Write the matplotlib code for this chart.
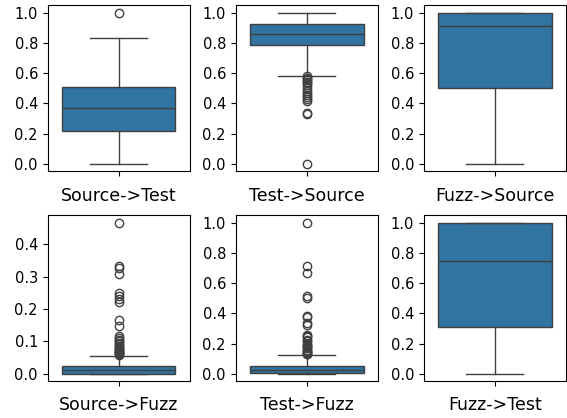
import matplotlib

matplotlib.use("Agg")
import matplotlib.pyplot as plt
from matplotlib.ticker import MultipleLocator

# panel order: top row then bottom row
labels = [
    "Source->Test",
    "Test->Source",
    "Fuzz->Source",
    "Source->Fuzz",
    "Test->Fuzz",
    "Fuzz->Test",
]
medians = [0.37, 0.862, 0.911, 0.011, 0.025, 0.75]
q1s = [0.217, 0.789, 0.5, 0.0, 0.003, 0.31]
q3s = [0.51, 0.924, 1.0, 0.025, 0.05, 1.0]
whis_lo = [0.0, 0.583, 0.0, 0.0, 0.0, 0.0]
whis_hi = [0.833, 1.0, 1.0, 0.056, 0.125, 1.0]
fliers = [
    [1.0],
    [0.579, 0.571, 0.563, 0.556, 0.545, 0.533, 0.524, 0.5, 0.485,
     0.467, 0.455, 0.444, 0.429, 0.417, 0.339, 0.333, 0.0],
    [],
    [0.466, 0.333, 0.327, 0.308, 0.25, 0.24, 0.231, 0.222, 0.167,
     0.148, 0.115, 0.111, 0.105, 0.1, 0.095, 0.091, 0.087, 0.083,
     0.08, 0.077, 0.074, 0.071, 0.067, 0.065, 0.063, 0.061, 0.059],
    [1.0, 0.714, 0.667, 0.516, 0.5, 0.385, 0.375, 0.339, 0.325,
     0.259, 0.25, 0.24, 0.222, 0.214, 0.2, 0.19, 0.182, 0.176,
     0.167, 0.158, 0.15, 0.143, 0.138, 0.133, 0.13],
    [],
]
tick_steps = [0.2, 0.2, 0.2, 0.1, 0.2, 0.2]

box_color = "#3274a1"
line_color = (0.25, 0.25, 0.25)

fig, axs = plt.subplots(2, 3, figsize=(5.67, 4.18), dpi=100)
plt.subplots_adjust(
    left=0.084, right=0.998, top=0.987, bottom=0.088, wspace=0.324, hspace=0.265
)

for i, ax in enumerate(axs.flat):
    stats = [
        dict(
            med=medians[i],
            q1=q1s[i],
            q3=q3s[i],
            whislo=whis_lo[i],
            whishi=whis_hi[i],
            fliers=fliers[i],
        )
    ]
    line_props = dict(color=line_color, linewidth=1.0)
    ax.bxp(
        stats,
        positions=[0],
        widths=0.8,
        capwidths=0.4,
        patch_artist=True,
        boxprops=dict(facecolor=box_color, edgecolor=line_color, linewidth=1.0),
        medianprops=line_props,
        whiskerprops=line_props,
        capprops=line_props,
        flierprops=dict(
            marker="o",
            markerfacecolor="none",
            markeredgecolor=line_color,
            markersize=6,
        ),
        manage_ticks=False,
    )
    ax.set_xlim(-0.5, 0.5)
    ax.set_xticks([0])
    ax.set_xticklabels([""])
    ax.yaxis.set_major_locator(MultipleLocator(tick_steps[i]))
    ax.tick_params(axis="y", labelsize=10.5)
    ax.set_xlabel(labels[i], fontsize=12.5)

fig.savefig("out.png", dpi=100)
